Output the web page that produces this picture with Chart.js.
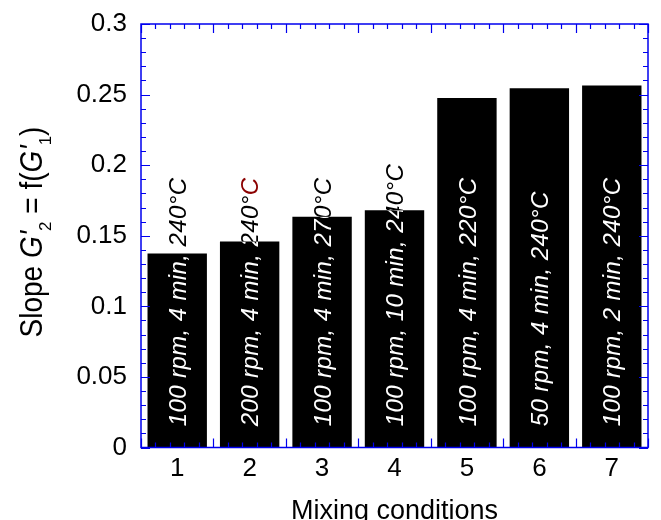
<!DOCTYPE html>
<html>
<head>
<meta charset="utf-8">
<script src="https://cdn.jsdelivr.net/npm/chart.js@4.4.1/dist/chart.umd.min.js"></script>
<style>
  html, body { margin: 0; padding: 0; background: #fff; }
  #wrap { width: 661px; height: 520px; }
</style>
</head>
<body>
<div id="wrap"><canvas id="graph-slope" width="661" height="520"></canvas></div>
<script>
'use strict';

// Données
const conditions = ['1', '2', '3', '4', '5', '6', '7'];
const slopes = [0.1375, 0.146, 0.1635, 0.168, 0.2475, 0.2545, 0.2565];
const barNotes = [
    '100 rpm, 4 min, 240°C',
    '200 rpm, 4 min, 240°C',
    '100 rpm, 4 min, 270°C',
    '100 rpm, 10 min, 240°C',
    '100 rpm, 4 min, 220°C',
    '50 rpm, 4 min, 240°C',
    '100 rpm, 2 min, 240°C'
];
// nombre de caractères finaux écrits en rouge (le "C" de la barre 2)
const noteAccentTail = [0, 1, 0, 0, 0, 0, 0];
const yTickValues = [0, 0.05, 0.1, 0.15, 0.2, 0.25, 0.3];

const FONT = "'Liberation Sans', Helvetica, Arial, sans-serif";
const AXIS_BLUE = '#0000ee';

// Texte écrit verticalement dans chaque barre : blanc dans la barre, noir au-dessus
const barNotesPlugin = {
    id: 'barNotes',
    afterDatasetsDraw(chart) {
        const ctx = chart.ctx;
        const area = chart.chartArea;
        const meta = chart.getDatasetMeta(0);
        const yStart = chart.scales.y.getPixelForValue(0.015);
        meta.data.forEach((bar, i) => {
            const p = bar.getProps(['x', 'y', 'base', 'width'], true);
            const left = p.x - p.width / 2;
            const text = barNotes[i];
            const split = text.length - noteAccentTail[i];
            [true, false].forEach(inside => {
                ctx.save();
                ctx.beginPath();
                if (inside) {
                    ctx.rect(left, p.y, p.width, p.base - p.y);
                    ctx.clip();
                } else {
                    ctx.rect(area.left, area.top, area.width, area.height);
                    ctx.rect(left, p.y, p.width, p.base - p.y);
                    ctx.clip('evenodd');
                }
                ctx.translate(p.x + 8.6, yStart);
                ctx.rotate(-Math.PI / 2);
                ctx.font = 'italic 24px ' + FONT;
                ctx.letterSpacing = '0.4px';
                ctx.textBaseline = 'alphabetic';
                ctx.textAlign = 'left';
                ctx.fillStyle = inside ? '#ffffff' : '#000000';
                const head = text.slice(0, split);
                ctx.fillText(head, 0, 0);
                if (split < text.length) {
                    const w = ctx.measureText(head).width;
                    ctx.fillStyle = inside ? '#ffffff' : '#8b0000';
                    ctx.fillText(text.slice(split), w, 0);
                }
                ctx.restore();
            });
        });
    }
};

// Cadre bleu avec graduations vers l'intérieur sur les quatre côtés
const framePlugin = {
    id: 'frame',
    afterDraw(chart) {
        const ctx = chart.ctx;
        const {left, right, top, bottom} = chart.chartArea;
        const xs = chart.scales.x;
        const ys = chart.scales.y;
        ctx.save();
        ctx.strokeStyle = AXIS_BLUE;
        ctx.lineWidth = 1.5;
        ctx.strokeRect(left, top, right - left, bottom - top);
        ctx.lineWidth = 1.2;
        ctx.beginPath();
        // axe Y : majeures tous les 0.05, mineures tous les 0.01
        for (let k = 0; k <= 30; k++) {
            const y = Math.round(ys.getPixelForValue(k / 100)) + 0.5;
            const len = (k % 5 === 0) ? 9 : 5;
            ctx.moveTo(left, y); ctx.lineTo(left + len, y);
            ctx.moveTo(right, y); ctx.lineTo(right - len, y);
        }
        // axe X : majeures entre les catégories, mineures tous les 0.2
        for (let k = 0; k <= 35; k++) {
            const idx = -0.5 + k * 0.2;
            const x = Math.round(xs.getPixelForValue(idx)) + 0.5;
            const len = (k % 5 === 0) ? 9 : 5;
            ctx.moveTo(x, bottom); ctx.lineTo(x, bottom - len);
            ctx.moveTo(x, top); ctx.lineTo(x, top + len);
        }
        ctx.stroke();
        ctx.restore();
    }
};

// Titre de l'axe Y avec indices et G en italique
const yTitlePlugin = {
    id: 'yTitle',
    afterDraw(chart) {
        const ctx = chart.ctx;
        const parts = [
            {t: 'Slope ', style: ''},
            {t: 'G', style: 'italic '},
            {t: "'", style: 'italic '},
            {t: '2', style: '', sub: true},
            {t: ' = f(', style: ''},
            {t: 'G', style: 'italic '},
            {t: "'", style: 'italic '},
            {t: '1', style: '', sub: true},
            {t: ')', style: ''}
        ];
        const fontFor = p => p.style + (p.sub ? '17px ' : '28px ') + FONT;
        let total = 0;
        parts.forEach(p => { ctx.font = fontFor(p); p.w = ctx.measureText(p.t).width; total += p.w; });
        ctx.save();
        ctx.translate(41.5, 232 + total / 2);
        ctx.rotate(-Math.PI / 2);
        ctx.fillStyle = '#000';
        ctx.textBaseline = 'alphabetic';
        let x = 0;
        parts.forEach(p => {
            ctx.save();
            ctx.font = fontFor(p);
            if (p.sub) {
                ctx.fillText(p.t, x, 9);
            } else {
                ctx.scale(1, 1.15);
                ctx.fillText(p.t, x, 0);
            }
            ctx.restore();
            x += p.w;
        });
        ctx.restore();
    }
};

const ctx = document.getElementById('graph-slope').getContext('2d');
new Chart(ctx, {
    type: 'bar',
    data: {
        labels: conditions,
        datasets: [{
            label: 'Slope',
            data: slopes,
            backgroundColor: '#000000',
            borderWidth: 0,
            barPercentage: 0.82,
            categoryPercentage: 1
        }]
    },
    options: {
        responsive: false,
        animation: false,
        events: [],
        layout: { padding: { left: 0, right: 13, top: 24, bottom: 0 } },
        plugins: {
            legend: { display: false },
            tooltip: { enabled: false }
        },
        scales: {
            x: {
                grid: { display: false, drawTicks: false },
                border: { display: false },
                ticks: { color: '#000', font: { family: FONT, size: 26 }, padding: 6 },
                title: {
                    display: true,
                    text: 'Mixing conditions',
                    color: '#000',
                    font: { family: FONT, size: 27 },
                    padding: { top: 0, bottom: -8 }
                },
                afterFit(scale) {
                    scale.height = 72.5;
                    scale.paddingLeft = 0;
                    scale.paddingRight = 0;
                }
            },
            y: {
                min: 0,
                max: 0.3,
                afterBuildTicks(scale) { scale.ticks = yTickValues.map(v => ({ value: v })); },
                grid: { display: false, drawTicks: false },
                border: { display: false },
                ticks: {
                    color: '#000',
                    font: { family: FONT, size: 26 },
                    padding: 14,
                    callback: v => String(+v.toFixed(2))
                },
                afterFit(scale) {
                    scale.width = 141;
                    scale.paddingTop = 0;
                    scale.paddingBottom = 0;
                }
            }
        }
    },
    plugins: [barNotesPlugin, framePlugin, yTitlePlugin]
});
</script>
</body>
</html>
